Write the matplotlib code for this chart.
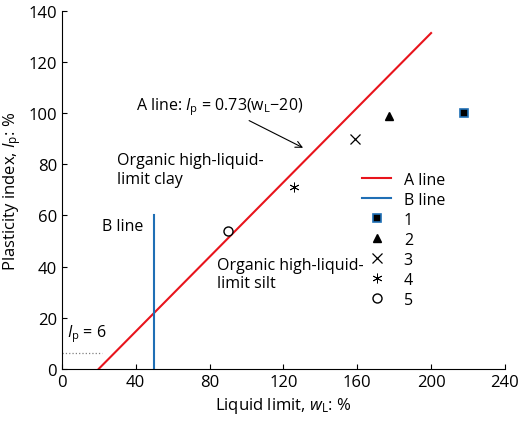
import matplotlib
matplotlib.use("Agg")
import matplotlib.pyplot as plt

plt.rcParams['font.family'] = ['Open Sans', 'DejaVu Sans']
plt.rcParams['mathtext.fontset'] = 'custom'
plt.rcParams['mathtext.it'] = 'Open Sans:italic'
plt.rcParams['mathtext.rm'] = 'Open Sans'

a_line_x = [20, 200]
b_line_x = 50
b_line_top = 60
ip6 = 6
pts_x = [218, 177, 159, 126, 90]
pts_y = [100, 99, 90, 71, 54]
labels = ['1', '2', '3', '4', '5']

fig = plt.figure(figsize=(5.2, 4.31), dpi=100)
ax = fig.add_axes([0.119, 0.142, 0.852, 0.83])
ax.plot(a_line_x, [0.73 * (x - 20) for x in a_line_x], color='#e8141c', lw=1.5, label='A line')
ax.plot([b_line_x, b_line_x], [0, b_line_top], color='#1f6fb5', lw=1.5, label='B line')
ax.plot([0, 22], [ip6, ip6], color='gray', ls=':', lw=0.9)
ax.plot(pts_x[0], pts_y[0], 's', mfc='black', mec='#1f6fb5', mew=1.2, ms=6, ls='none', label=labels[0])
ax.plot(pts_x[1], pts_y[1], '^', color='black', ms=6, ls='none', label=labels[1])
ax.plot(pts_x[2], pts_y[2], 'x', color='black', ms=7, mew=0.9, ls='none', label=labels[2])
ax.plot(pts_x[3], pts_y[3], marker=(6, 2, 0), color='black', ms=7, mew=0.6, ls='none', label=labels[3])
ax.plot(pts_x[4], pts_y[4], 'o', mfc='white', mec='black', ms=6.5, ls='none', label=labels[4])

ax.set_xlim(0, 240)
ax.set_ylim(0, 140)
ax.set_xticks(range(0, 241, 40))
ax.set_yticks(range(0, 141, 20))
ax.tick_params(direction='in', labelsize=12)
for s in ['top', 'right']:
    ax.spines[s].set_visible(False)
ax.set_xlabel('Liquid limit, $\\mathit{w}_{\\mathrm{L}}$: %', fontsize=12)
ax.set_ylabel('Plasticity index, $\\mathit{I}_{\\mathrm{p}}$: %', fontsize=12)

ax.annotate('A line: $\\mathit{I}_{\\mathrm{p}}$ = 0.73(w$_{\\mathrm{L}}$\u221220)', xy=(132, 86), xytext=(40, 103),
            fontsize=11.5, va='center', arrowprops=dict(arrowstyle='->', color='black', lw=0.8))
ax.text(30, 78, 'Organic high-liquid-\nlimit clay', fontsize=11.5, ha='left', va='center', linespacing=1.2)
ax.text(22, 56, 'B line', fontsize=11.5, ha='left', va='center')
ax.text(84, 37, 'Organic high-liquid-\nlimit silt', fontsize=11.5, ha='left', va='center', linespacing=1.2)
ax.text(3, 14, '$\\mathit{I}_{\\mathrm{p}}$ = 6', fontsize=11.5, ha='left', va='center')

ax.legend(loc='center left', bbox_to_anchor=(0.66, 0.36), frameon=False, fontsize=11.5,
          handlelength=1.8, labelspacing=0.25, borderpad=0)
fig.savefig('out.png', dpi=100)
